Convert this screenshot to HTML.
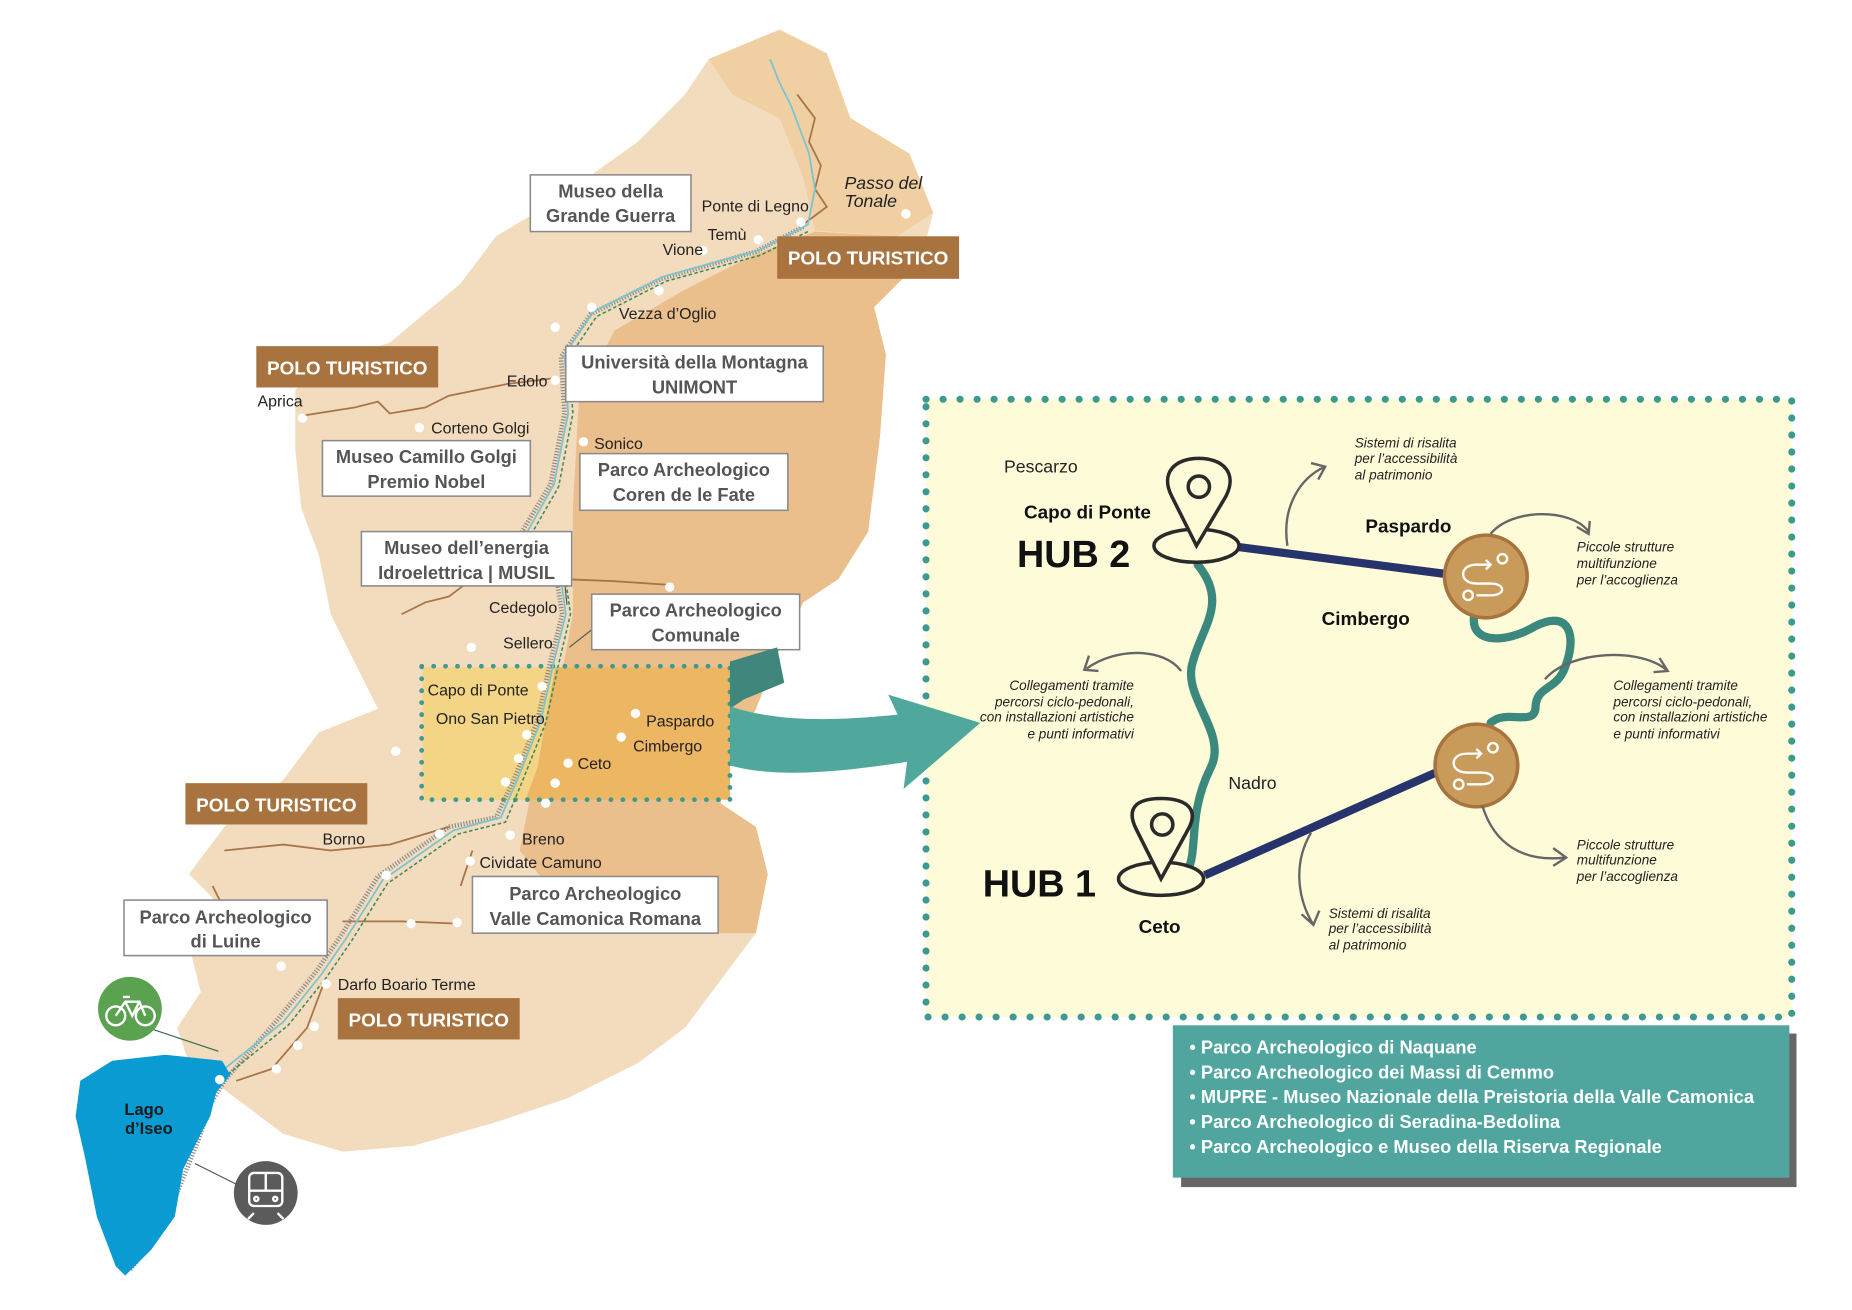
<!DOCTYPE html>
<html><head><meta charset="utf-8"><style>
html,body{margin:0;padding:0;background:#fff;width:1852px;height:1310px;overflow:hidden}
svg{display:block}
text{font-family:"Liberation Sans",sans-serif}
.lb{font-size:13.5px;fill:#222}
.bx{fill:#fff;stroke:#8a8a8a;stroke-width:1.3}
.bt{font-size:15.5px;font-weight:bold;fill:#555;text-anchor:middle}
.pt{fill:#a8733f}
.ptt{font-size:16px;font-weight:bold;fill:#fff;text-anchor:middle}
.it{font-family:"Liberation Sans Narrow","Liberation Sans",sans-serif;font-style:italic;font-size:11.5px;fill:#222}
.wd{fill:#fff}
</style></head><body>
<svg width="1852" height="1310" viewBox="0 0 1568 1109" xmlns="http://www.w3.org/2000/svg">
<path fill="#f3dcbd" d="M600,50 L660,25 L700,45 L720,100 L770,130 L790,180 L780,220 L740,260 L750,300 L745,370 L735,450 L710,490 L680,510 L660,550 L640,600 L620,640 L610,680 L640,700 L650,740 L640,790 L610,830 L580,870 L540,900 L480,930 L420,950 L350,970 L290,975 L240,960 L200,930 L160,900 L150,870 L170,840 L160,800 L180,760 L160,740 L190,700 L240,660 L270,620 L320,600 L310,580 L280,520 L270,470 L255,430 L250,380 L250,330 L270,310 L330,290 L390,240 L420,200 L470,170 L540,120 L580,80 Z"/>
<path fill="#f0cfa3" d="M600,50 L660,25 L700,45 L720,100 L770,130 L790,180 L760,200 L690,195 L680,150 L660,100 L620,80 Z"/>
<path fill="#ebbf8c" d="M690,196 L760,200 L785,215 L780,220 L740,260 L750,300 L745,370 L735,450 L710,490 L680,510 L660,550 L640,600 L620,640 L610,680 L640,700 L650,740 L640,790 L560,790 L480,770 L440,720 L450,670 L470,600 L485,520 L485,430 L490,340 L520,280 L580,245 L640,215 Z"/>
<rect x="358" y="565" width="260" height="112" fill="#ecb662"/>
<path fill="#f4d585" d="M358,565 L470,565 L462,610 L455,650 L445,677 L358,677 Z"/>
<rect x="357" y="564" width="261" height="113" fill="none" stroke="#3e9a90" stroke-width="4" stroke-dasharray="0.1 10" stroke-linecap="round"/>
<g fill="none" stroke="#a87448" stroke-width="1.5">
<path d="M255,352 L300,345 L320,340 L330,350 L360,345 L380,335 L430,325 L470,320"/>
<path d="M675,80 L690,100 L685,120 L695,140 L690,160 L700,175 L680,190"/>
<path d="M340,520 L360,510 L380,505 L400,490 L430,488 L470,490 L520,492 L565,495"/>
<path d="M190,720 L240,715 L280,720 L330,715 L380,700"/>
<path d="M180,750 L190,770 L230,775 L270,790"/>
<path d="M290,780 L340,780 L390,782"/>
<path d="M275,830 L260,870 L230,905 L200,915"/>
<path d="M400,720 L390,750"/>
</g>
<g fill="none">
<path stroke="#8a8a8a" stroke-width="4" stroke-dasharray="1 1.5" d="M680,192 L640,213 L560,236 L500,266 L475,302 L478,350 L466,410 L442,450 L470,482 L476,520 L466,560 L455,610 L435,660 L420,692 L380,700 L320,742 L290,790 L268,822 L236,862 L190,915 L178,935 L168,965 L150,1010 L130,1050 L110,1075"/>
<path stroke="#7ac4d2" stroke-width="1.5" d="M652,50 L660,70 L670,90 L685,130 L690,160 L684,190 L642,212 L562,234 L502,264 L478,300 L481,350 L469,410 L446,451 L474,482 L479,520 L469,560 L458,610 L438,660 L424,692 L384,703 L324,745 L294,793 L272,825 L240,865 L186,908"/>
<path stroke="#3a8a5a" stroke-width="1.3" stroke-dasharray="3 2" d="M684,196 L644,216 L564,238 L505,268 L482,302 L485,350 L473,412 L450,452 L478,484 L483,520 L473,562 L462,612 L442,662 L428,696 L388,706 L328,748 L298,796 L276,828 L244,868 L190,912"/>
</g>
<path fill="#0a9bd3" d="M68,915 L95,898 L140,893 L188,898 L195,910 L183,925 L178,945 L170,960 L155,990 L148,1030 L128,1058 L106,1080 L98,1072 L82,1030 L72,980 L64,945 Z"/>
<text x="122" y="944" font-size="14" font-weight="bold" fill="#1a1a1a" text-anchor="middle">Lago</text>
<text x="126" y="960" font-size="14" font-weight="bold" fill="#1a1a1a" text-anchor="middle">d’Iseo</text>
<path d="M125,870 L185,890" stroke="#3a6a50" stroke-width="1"/>
<path d="M165,985 L205,1005" stroke="#555" stroke-width="1"/>
<circle cx="110" cy="854" r="27" fill="#5aa150"/>
<g fill="none" stroke="#fff" stroke-width="2"><circle cx="98" cy="860" r="8"/><circle cx="123" cy="860" r="8"/><path d="M98,860 L106,848 L118,848 L123,860 M106,848 L112,860 L118,848 M104,844 L110,844"/></g>
<circle cx="225" cy="1010" r="27" fill="#5b5b5b"/>
<g fill="none" stroke="#fff" stroke-width="2"><rect x="211" y="993" width="28" height="28" rx="4"/><path d="M211,1008 L239,1008 M225,993 L225,1008 M215,1027 L210,1032 M235,1027 L240,1032"/><circle cx="217" cy="1015" r="1.8"/><circle cx="233" cy="1015" r="1.8"/></g>
<g class="wd">
<circle cx="678" cy="188" r="4"/><circle cx="767" cy="181" r="4"/><circle cx="642" cy="203" r="4"/><circle cx="595" cy="212" r="4"/><circle cx="558" cy="246" r="4"/><circle cx="501" cy="260" r="4"/><circle cx="470" cy="277" r="4"/><circle cx="470" cy="322" r="4"/><circle cx="256" cy="354" r="4"/><circle cx="355" cy="362" r="4"/><circle cx="494" cy="374" r="4"/><circle cx="567" cy="497" r="4"/><circle cx="459" cy="581" r="4"/><circle cx="538" cy="604" r="4"/><circle cx="446" cy="622" r="4"/><circle cx="526" cy="624" r="4"/><circle cx="439" cy="642" r="4"/><circle cx="481" cy="646" r="4"/><circle cx="399" cy="548" r="4"/><circle cx="335" cy="636" r="4"/><circle cx="428" cy="662" r="4"/><circle cx="470" cy="663" r="4"/><circle cx="462" cy="680" r="4"/><circle cx="432" cy="707" r="4"/><circle cx="372" cy="706" r="4"/><circle cx="398" cy="729" r="4"/><circle cx="327" cy="741" r="4"/><circle cx="387" cy="781" r="4"/><circle cx="348" cy="782" r="4"/><circle cx="238" cy="818" r="4"/><circle cx="276" cy="833" r="4"/><circle cx="266" cy="869" r="4"/><circle cx="252" cy="885" r="4"/><circle cx="234" cy="905" r="4"/><circle cx="186" cy="914" r="4"/>
</g>
<text class="lb" x="594" y="179">Ponte di Legno</text>
<text class="lb" x="599" y="203">Temù</text>
<text class="lb" x="561" y="216">Vione</text>
<text class="lb" x="524" y="270">Vezza d’Oglio</text>
<text class="lb" x="429" y="327">Edolo</text>
<text class="lb" x="218" y="344">Aprica</text>
<text class="lb" x="365" y="367">Corteno Golgi</text>
<text class="lb" x="503" y="380">Sonico</text>
<text class="lb" x="414" y="519">Cedegolo</text>
<text class="lb" x="426" y="549">Sellero</text>
<text class="lb" x="362" y="589">Capo di Ponte</text>
<text class="lb" x="369" y="613">Ono San Pietro</text>
<text class="lb" x="547" y="615">Paspardo</text>
<text class="lb" x="536" y="636">Cimbergo</text>
<text class="lb" x="489" y="651">Ceto</text>
<text class="lb" x="273" y="715">Borno</text>
<text class="lb" x="442" y="715">Breno</text>
<text class="lb" x="406" y="735">Cividate Camuno</text>
<text class="lb" x="286" y="838">Darfo Boario Terme</text>
<text x="715" y="160" font-size="15" font-style="italic" fill="#222">Passo del</text>
<text x="715" y="175" font-size="15" font-style="italic" fill="#222">Tonale</text>
<path d="M478,492 L480,512 M482,548 L505,530" stroke="#555" stroke-width="1" fill="none"/>
<rect class="bx" x="449" y="148" width="136" height="48"/><text class="bt" x="517" y="167">Museo della</text><text class="bt" x="517" y="188">Grande Guerra</text>
<rect class="bx" x="479" y="293" width="218" height="47"/><text class="bt" x="588" y="312">Università della Montagna</text><text class="bt" x="588" y="333">UNIMONT</text>
<rect class="bx" x="273" y="373" width="176" height="47"/><text class="bt" x="361" y="392">Museo Camillo Golgi</text><text class="bt" x="361" y="413">Premio Nobel</text>
<rect class="bx" x="491" y="384" width="176" height="48"/><text class="bt" x="579" y="403">Parco Archeologico</text><text class="bt" x="579" y="424">Coren de le Fate</text>
<rect class="bx" x="306" y="450" width="178" height="46"/><text class="bt" x="395" y="469">Museo dell’energia</text><text class="bt" x="395" y="490">Idroelettrica | MUSIL</text>
<rect class="bx" x="501" y="503" width="176" height="47"/><text class="bt" x="589" y="522">Parco Archeologico</text><text class="bt" x="589" y="543">Comunale</text>
<rect class="bx" x="400" y="742" width="208" height="48"/><text class="bt" x="504" y="762">Parco Archeologico</text><text class="bt" x="504" y="783">Valle Camonica Romana</text>
<rect class="bx" x="105" y="762" width="172" height="47"/><text class="bt" x="191" y="782">Parco Archeologico</text><text class="bt" x="191" y="802">di Luine</text>
<rect class="pt" x="658" y="200" width="154" height="36"/><text class="ptt" x="735" y="224">POLO TURISTICO</text>
<rect class="pt" x="217" y="293" width="154" height="35"/><text class="ptt" x="294" y="317">POLO TURISTICO</text>
<rect class="pt" x="157" y="663" width="154" height="35"/><text class="ptt" x="234" y="687">POLO TURISTICO</text>
<rect class="pt" x="286" y="845" width="154" height="35"/><text class="ptt" x="363" y="869">POLO TURISTICO</text>
<path fill="#3f877c" d="M618,560 L658,548 L664,578 L630,592 L618,600 Z"/>
<rect x="784" y="338" width="733" height="523" fill="#fefbd8"/>
<rect x="784" y="338" width="733" height="523" fill="none" stroke="#3e9a90" stroke-width="6" stroke-dasharray="0.1 14.3" stroke-linecap="round"/>
<path fill="#4fa89b" d="M618,598 C660,612 710,610 760,605 L752,588 L830,612 L765,668 L768,645 C720,652 660,660 618,648 Z"/>
<rect x="1000" y="875" width="521" height="130" fill="#666"/>
<rect x="993" y="868" width="522" height="129" fill="#50a69e"/>
<g font-family="'Liberation Sans Narrow','Liberation Sans',sans-serif" font-weight="bold" font-size="15.5" fill="#fff">
<text x="1007" y="892">• Parco Archeologico di Naquane</text>
<text x="1007" y="913">• Parco Archeologico dei Massi di Cemmo</text>
<text x="1007" y="934">• MUPRE - Museo Nazionale della Preistoria della Valle Camonica</text>
<text x="1007" y="955">• Parco Archeologico di Seradina-Bedolina</text>
<text x="1007" y="976">• Parco Archeologico e Museo della Riserva Regionale</text>
</g>
<path d="M1014,478 C1040,510 1018,530 1010,560 C1000,590 1040,620 1025,650 C1005,690 1015,720 1005,738" fill="none" stroke="#3b887f" stroke-width="7" stroke-linecap="round"/>
<path d="M1248,522 C1245,545 1275,545 1300,530 C1330,515 1335,540 1325,565 C1318,585 1300,580 1300,600 C1298,615 1275,600 1262,612" fill="none" stroke="#3b887f" stroke-width="7" stroke-linecap="round"/>
<path d="M1048,463 L1225,486" stroke="#27336b" stroke-width="7"/>
<path d="M1020,741 L1218,653" stroke="#27336b" stroke-width="7"/>
<g fill="none" stroke="#2a2a2a" stroke-width="3">
<ellipse cx="1013" cy="462" rx="36" ry="14" fill="#fefbd8"/>
<path d="M1013,462 L992,420 C982,400 995,388 1015,388 C1035,388 1048,400 1038,420 Z" fill="#fefbd8"/>
<circle cx="1015" cy="412" r="9"/>
<ellipse cx="983" cy="744" rx="36" ry="14" fill="#fefbd8"/>
<path d="M983,744 L962,702 C952,682 965,676 983,676 C1003,676 1016,684 1006,702 Z" fill="#fefbd8"/>
<circle cx="984" cy="698" r="9"/>
</g>
<g>
<circle cx="1258" cy="488" r="35" fill="#c99b5a" stroke="#a8733f" stroke-width="3"/>
<circle cx="1250" cy="648" r="35" fill="#c99b5a" stroke="#a8733f" stroke-width="3"/>
<g fill="none" stroke="#fff" stroke-width="2">
<path d="M1250,478 C1235,478 1235,494 1250,494 L1262,494 C1275,494 1275,504 1262,504 L1250,504 M1250,478 L1262,478 M1258,474 L1262,478 L1258,482"/><circle cx="1272" cy="473" r="4"/><circle cx="1243" cy="504" r="4"/>
<path d="M1242,638 C1227,638 1227,654 1242,654 L1254,654 C1267,654 1267,664 1254,664 L1242,664 M1242,638 L1254,638 M1250,634 L1254,638 L1250,642"/><circle cx="1264" cy="633" r="4"/><circle cx="1235" cy="664" r="4"/>
</g>
</g>
<g fill="none" stroke="#666" stroke-width="2">
<path d="M1090,462 C1085,430 1100,405 1122,395 M1110,392 L1122,395 L1116,406"/>
<path d="M1262,452 C1280,430 1330,430 1345,450 M1335,446 L1345,452 L1346,441"/>
<path d="M1000,568 C985,548 945,548 920,566 M922,555 L918,567 L930,568"/>
<path d="M1308,575 C1330,550 1390,548 1412,568 M1405,557 L1412,568 L1400,569"/>
<path d="M1110,705 C1095,730 1098,760 1112,783 M1102,774 L1112,783 L1117,771"/>
<path d="M1255,682 C1265,715 1290,730 1325,726 M1315,718 L1326,726 L1315,733"/>
</g>
<text x="850" y="400" font-size="15" fill="#222">Pescarzo</text>
<text x="867" y="439" font-size="16" font-weight="bold" fill="#111">Capo di Ponte</text>
<text x="861" y="480" font-size="32" font-weight="bold" fill="#111">HUB 2</text>
<text x="832" y="759" font-size="32" font-weight="bold" fill="#111">HUB 1</text>
<text x="964" y="790" font-size="16" font-weight="bold" fill="#111">Ceto</text>
<text x="1156" y="451" font-size="16" font-weight="bold" fill="#111">Paspardo</text>
<text x="1119" y="529" font-size="16" font-weight="bold" fill="#111">Cimbergo</text>
<text x="1040" y="668" font-size="15" fill="#222">Nadro</text>
<text class="it" x="1147" y="379">Sistemi di risalita</text><text class="it" x="1147" y="392">per l’accessibilità</text><text class="it" x="1147" y="406">al patrimonio</text>
<text class="it" x="1125" y="777">Sistemi di risalita</text><text class="it" x="1125" y="790">per l’accessibilità</text><text class="it" x="1125" y="804">al patrimonio</text>
<text class="it" x="1335" y="467">Piccole strutture</text><text class="it" x="1335" y="481">multifunzione</text><text class="it" x="1335" y="495">per l’accoglienza</text>
<text class="it" x="1335" y="719">Piccole strutture</text><text class="it" x="1335" y="732">multifunzione</text><text class="it" x="1335" y="746">per l’accoglienza</text>
<g text-anchor="end"><text class="it" x="960" y="584">Collegamenti tramite</text><text class="it" x="960" y="598">percorsi ciclo-pedonali,</text><text class="it" x="960" y="611">con installazioni artistiche</text><text class="it" x="960" y="625">e punti informativi</text></g>
<text class="it" x="1366" y="584">Collegamenti tramite</text><text class="it" x="1366" y="598">percorsi ciclo-pedonali,</text><text class="it" x="1366" y="611">con installazioni artistiche</text><text class="it" x="1366" y="625">e punti informativi</text>
</svg>
</body></html>
